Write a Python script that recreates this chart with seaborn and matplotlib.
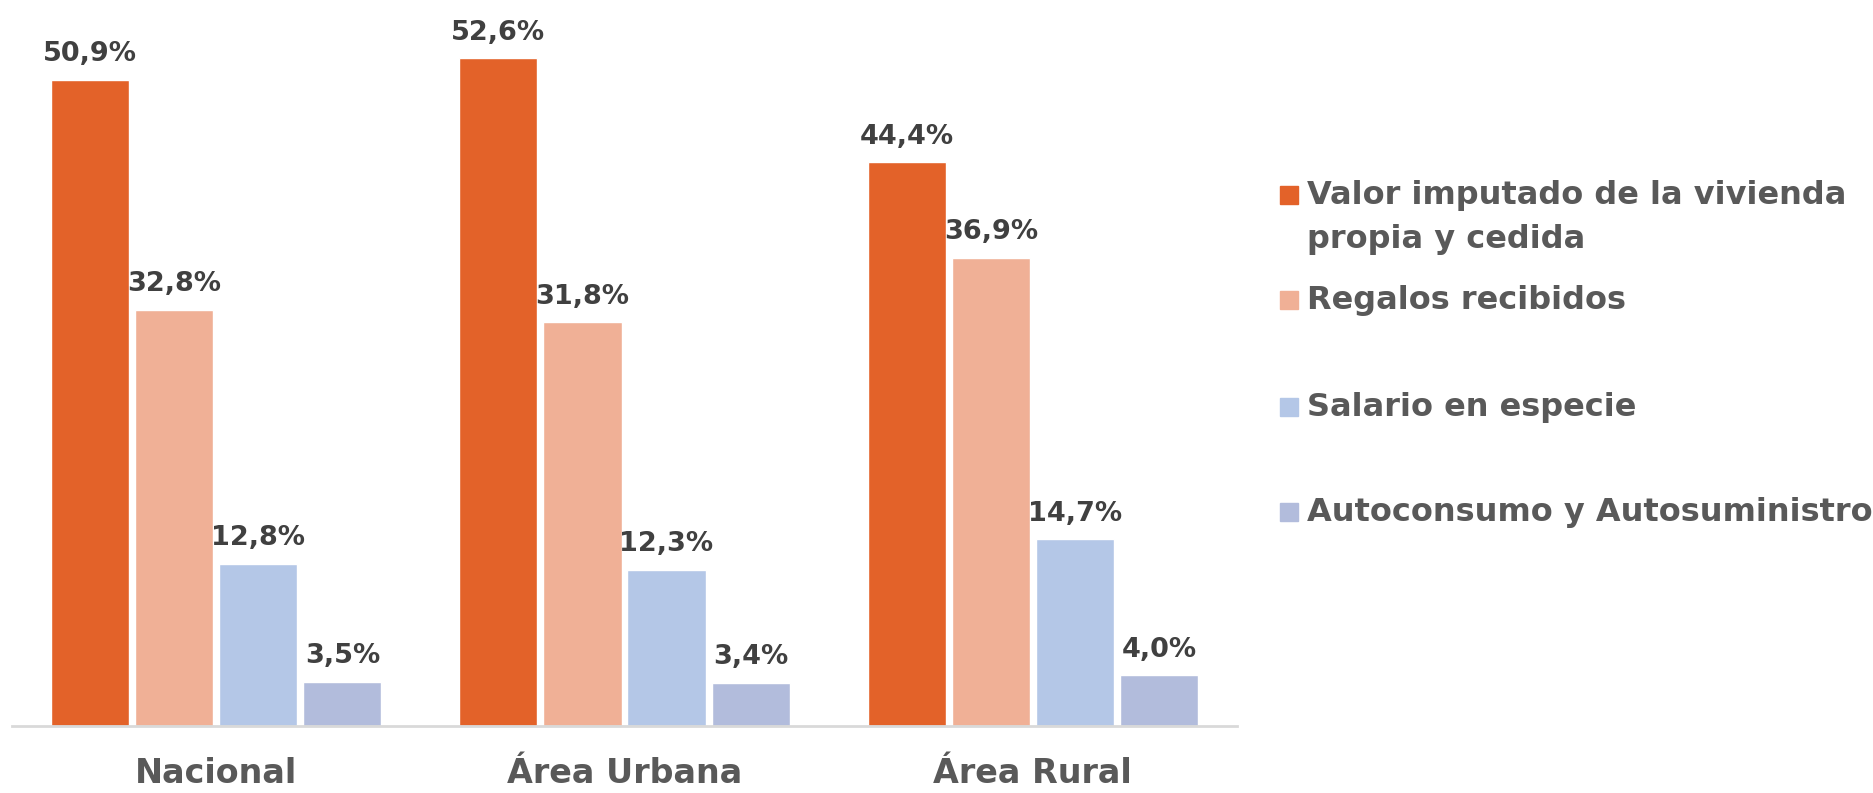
import pandas as pd
import matplotlib
matplotlib.use("Agg")
import matplotlib.pyplot as plt
import seaborn as sns
from matplotlib.patches import Rectangle

areas = ["Nacional", "Área Urbana", "Área Rural"]
series = ["Valor imputado de la vivienda\npropia y cedida", "Regalos recibidos",
          "Salario en especie", "Autoconsumo y Autosuministro"]
valor_imputado = [50.9, 52.6, 44.4]
regalos = [32.8, 31.8, 36.9]
salario = [12.8, 12.3, 14.7]
autoconsumo = [3.5, 3.4, 4.0]
colors = ["#E36229", "#F0B096", "#B4C7E7", "#B2BCDC"]

rows = []
for name, vals in zip(series, [valor_imputado, regalos, salario, autoconsumo]):
    for a, v in zip(areas, vals):
        rows.append({"area": a, "serie": name, "pct": v})
df = pd.DataFrame(rows)

sns.set_style("white")
plt.rcParams["font.family"] = ["DejaVu Sans"]

fig = plt.figure(figsize=(18.74, 7.93), dpi=100)
ax = fig.add_axes([12 / 1874, 67 / 793, 1225 / 1874, 726 / 793])

sns.barplot(data=df, x="area", y="pct", hue="serie", palette=colors,
            width=0.824, gap=0.07, ax=ax, legend=False, saturation=1)

for cont in ax.containers:
    labs = [f"{b.get_height():.1f}%".replace(".", ",") for b in cont]
    ax.bar_label(cont, labels=labs, padding=9, fontsize=19.5, fontweight="bold",
                 color="#404040")

ax.set_ylim(0, 57.2)
ax.set_xlim(-0.5, 2.5)
ax.set_yticks([])
ax.set_xlabel("")
ax.set_ylabel("")
for s in ["top", "right", "left"]:
    ax.spines[s].set_visible(False)
ax.spines["bottom"].set_color("#D9D9D9")
ax.spines["bottom"].set_linewidth(2)
ax.tick_params(axis="x", length=0, pad=22, labelsize=24, labelcolor="#595959")
for t in ax.get_xticklabels():
    t.set_fontweight("bold")

# legend drawn on the figure
ys = [195, 300, 407, 512]
for name, col, y in zip(series, colors, ys):
    fig.patches.append(Rectangle((1280 / 1874, 1 - (y + 9) / 793), 18 / 1874, 18 / 793,
                                 transform=fig.transFigure, color=col, figure=fig))
    if "\n" in name:
        fig.text(1307 / 1874, 1 - (y - 15) / 793, name, fontsize=23, fontweight="bold",
                 color="#595959", va="top", linespacing=1.55)
    else:
        fig.text(1307 / 1874, 1 - y / 793, name, fontsize=23, fontweight="bold",
                 color="#595959", va="center")

fig.savefig("out.png", dpi=100)
